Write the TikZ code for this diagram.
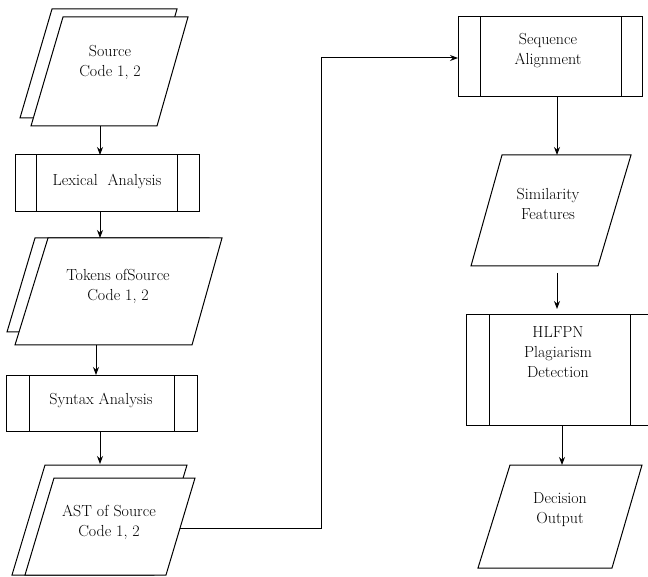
\documentclass[tikz,border=0pt]{standalone}
\usetikzlibrary{arrows.meta}
\begin{document}
\begin{tikzpicture}[x=1pt,y=-1pt,
  shp/.style={draw=black,line width=1pt,fill=white,line join=miter},
  conn/.style={draw=black,line width=1pt,-{Stealth[length=8pt,width=6pt]}},
  lbl/.style={align=center,inner sep=0pt,font=\fontsize{16}{20}\selectfont,text=black}]
\useasboundingbox (0,0) rectangle (648,577);
\clip (0,0) rectangle (648,577);
% Source Code 1, 2
\draw[shp] (52,9) -- (177,9) -- (146,118) -- (20,118) -- cycle;
\draw[shp] (63,17) -- (188,17) -- (157,126) -- (31,126) -- cycle;
\node[lbl] (src) at (110,62) {Source\\Code 1, 2};
\coordinate (srcB) at (100,126);
% Lexical Analysis
\draw[shp] (15,155) rectangle (199,212);
\draw[shp] (36,155) -- (36,212) (177,155) -- (177,212);
\node[lbl] (lex) at (107,181) {Lexical\ \ Analysis};
\coordinate (lexT) at (100,155);
\coordinate (lexB) at (100,212);
% Tokens
\draw[shp] (35,238) -- (209,238) -- (179,332) -- (7,332) -- cycle;
\draw[shp] (48,238) -- (222,238) -- (192,345) -- (15,345) -- cycle;
\node[lbl] (tok) at (118,286) {Tokens ofSource\\Code 1, 2};
\coordinate (tokT) at (100,238);
\coordinate (tokB) at (96,345);
% Syntax Analysis
\draw[shp] (6,375) rectangle (197,431);
\draw[shp] (29,375) -- (29,431) (174,375) -- (174,431);
\node[lbl] (syn) at (101,400) {Syntax Analysis};
\coordinate (synT) at (96,375);
\coordinate (synB) at (100,431);
% AST
\draw[shp] (45,465) -- (187,465) -- (154,575) -- (12,575) -- cycle;
\draw[shp] (54,478) -- (195,478) -- (166,575) -- (25,575) -- cycle;
\node[lbl] (ast) at (109,522) {AST of Source\\Code 1, 2};
\coordinate (astT) at (100,464);
\coordinate (astR) at (180,528);
% Sequence Alignment
\draw[shp] (458,17) rectangle (642,97);
\draw[shp] (480,17) -- (480,97) (621,17) -- (621,97);
\node[lbl] (seq) at (548,51) {Sequence\\Alignment};
\coordinate (seqL) at (458,58);
\coordinate (seqB) at (557,97);
% Similarity Features
\draw[shp] (502,155) -- (631,155) -- (598,266) -- (471,266) -- cycle;
\node[lbl] (sim) at (548,204) {Similarity\\Features};
\coordinate (simT) at (557,155);
\coordinate (simB) at (557,273);
% HLFPN
\draw[shp] (466,315) rectangle (660,425);
\draw[shp] (489,315) -- (489,425) (630,315) -- (630,425);
\node[lbl] (hl) at (558,352) {HLFPN\\Plagiarism\\Detection};
\coordinate (hlT) at (557,309);
\coordinate (hlB) at (562,425);
% Decision Output
\draw[shp] (510,465) -- (642,465) -- (612,568) -- (478,568) -- cycle;
\node[lbl] (dec) at (560,510) {Decision\\Output};
\coordinate (decT) at (562,465);
% connectors
\draw[conn] (srcB) -- (lexT);
\draw[conn] (lexB) -- (tokT);
\draw[conn] (tokB) -- (synT);
\draw[conn] (synB) -- (astT);
\draw[conn] (astR) -- (321,528) -- (321,58) -- (seqL);
\draw[conn] (seqB) -- (simT);
\draw[conn] (simB) -- (hlT);
\draw[conn] (hlB) -- (decT);
\end{tikzpicture}
\end{document}
